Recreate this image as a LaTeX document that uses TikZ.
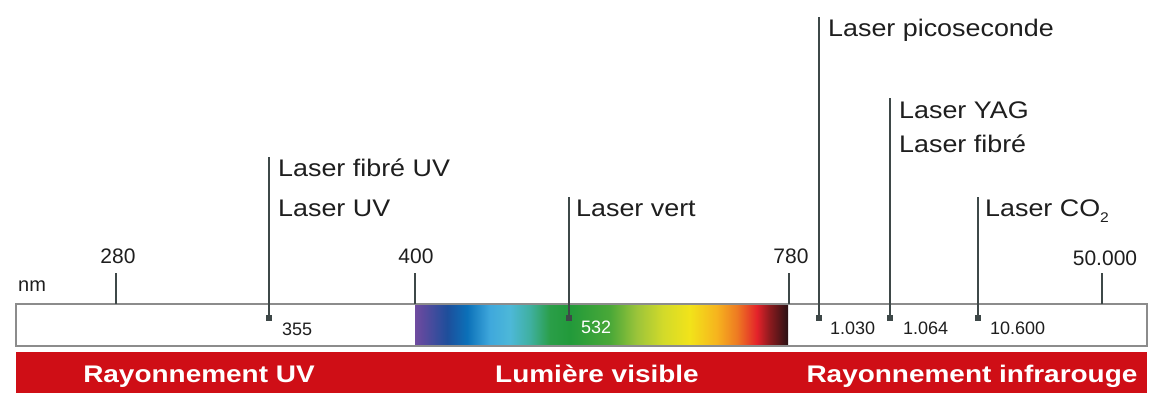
\documentclass[tikz,border=0pt]{standalone}
\usepackage{fontspec}
\setmainfont{Liberation Sans}
\newfontfamily\lblfont{Liberation Sans}[FakeStretch=1.12]
\newfontfamily\bandfont{Liberation Sans}[FakeStretch=1.165]
\definecolor{linecol}{RGB}{62,72,72}
\definecolor{barborder}{RGB}{140,140,140}
\definecolor{bandred}{RGB}{207,14,22}
\definecolor{txtcol}{RGB}{30,30,30}
\definecolor{s01}{RGB}{112,76,160}
\definecolor{s02}{RGB}{92,74,158}
\definecolor{s03}{RGB}{30,78,155}
\definecolor{s04}{RGB}{11,112,184}
\definecolor{s05}{RGB}{63,168,220}
\definecolor{s06}{RGB}{77,184,216}
\definecolor{s07}{RGB}{63,176,160}
\definecolor{s08}{RGB}{42,158,72}
\definecolor{s09}{RGB}{34,154,58}
\definecolor{s10}{RGB}{74,168,56}
\definecolor{s11}{RGB}{156,196,58}
\definecolor{s12}{RGB}{210,218,42}
\definecolor{s13}{RGB}{242,227,26}
\definecolor{s14}{RGB}{246,179,30}
\definecolor{s15}{RGB}{238,122,34}
\definecolor{s16}{RGB}{227,34,42}
\definecolor{s17}{RGB}{138,26,30}
\definecolor{s18}{RGB}{42,18,20}
\pgfdeclarehorizontalshading{spectrum}{100bp}{%
color(0bp)=(s01); color(25bp)=(s01); color(26.07bp)=(s02); color(29.29bp)=(s03);
color(31.97bp)=(s04); color(35.05bp)=(s05); color(37.73bp)=(s06); color(40.42bp)=(s07);
color(43.10bp)=(s08); color(45.78bp)=(s09); color(51.14bp)=(s10); color(54.76bp)=(s11);
color(58.24bp)=(s12); color(61.86bp)=(s13); color(65.48bp)=(s14); color(68.16bp)=(s15);
color(70.84bp)=(s16); color(72.59bp)=(s17); color(75bp)=(s18); color(100bp)=(s18)}
\begin{document}
\begin{tikzpicture}[x=1pt,y=-1pt,
  lasline/.style={draw=linecol, line width=1.8pt},
  tickline/.style={draw=linecol, line width=1.8pt},
  lasdot/.style={rectangle, fill=linecol, minimum size=6pt, inner sep=0pt},
  lbl/.style={anchor=base west, inner sep=0pt, text=txtcol, font=\lblfont\fontsize{24}{28}\selectfont},
  topnum/.style={anchor=base, inner sep=0pt, text=txtcol, font=\fontsize{21}{24}\selectfont},
  innum/.style={anchor=base west, inner sep=0pt, text=txtcol, font=\fontsize{18}{21}\selectfont},
  bandlbl/.style={anchor=base, inner sep=0pt, text=white, font=\bandfont\bfseries\fontsize{24}{28}\selectfont}]
\useasboundingbox (0,0) rectangle (1160,407);
% spectrum bar
\fill[white] (16,304) rectangle (1147,346);
\shade[shading=spectrum] (415,304) rectangle (788,346);
\draw[barborder, line width=1.2pt] (16,304) rectangle (1147,346);
% red band
\fill[bandred] (16,352) rectangle (1147,393);
\node[bandlbl] (bUV) at (199,382) {Rayonnement UV};
\node[bandlbl] (bVis) at (597,382) {Lumière visible};
\node[bandlbl] (bIR) at (972,382) {Rayonnement infrarouge};
% scale ticks
\coordinate (t280a) at (116,273); \coordinate (t280b) at (116,304);
\coordinate (t400a) at (415,273); \coordinate (t400b) at (415,304);
\coordinate (t780a) at (789,273); \coordinate (t780b) at (789,304);
\coordinate (t50ka) at (1102,273); \coordinate (t50kb) at (1102,304);
\draw[tickline] (t280a) -- (t280b);
\draw[tickline] (t400a) -- (t400b);
\draw[tickline] (t780a) -- (t780b);
\draw[tickline] (t50ka) -- (t50kb);
\node[topnum] (n280) at (118,263) {280};
\node[topnum] (n400) at (416,263) {400};
\node[topnum] (n780) at (791,263) {780};
\node[topnum] (n50k) at (1105,265) {50.000};
\node[anchor=base west, inner sep=0pt, text=txtcol, font=\fontsize{20}{24}\selectfont] (nm) at (18,291) {nm};
% laser markers
\node[lasdot] (mUV) at (269,317.5) {};
\node[lasdot] (mVert) at (569,317.5) {};
\node[lasdot] (mPico) at (819,317.5) {};
\node[lasdot] (mYAG) at (890,317.5) {};
\node[lasdot] (mCO) at (978,317.5) {};
\coordinate (tUV) at (269,157);
\coordinate (tVert) at (569,197);
\coordinate (tPico) at (819,17);
\coordinate (tYAG) at (890,98);
\coordinate (tCO) at (978,197);
\draw[lasline] (tUV) -- (mUV.center);
\draw[lasline] (tVert) -- (mVert.center);
\draw[lasline] (tPico) -- (mPico.center);
\draw[lasline] (tYAG) -- (mYAG.center);
\draw[lasline] (tCO) -- (mCO.center);
% laser labels
\node[lbl] (lPico) at (828,36) {Laser picoseconde};
\node[lbl] (lYAG) at (899,118) {Laser YAG};
\node[lbl] (lFib) at (899,152) {Laser fibré};
\node[lbl] (lCO) at (985,216) {Laser CO\raisebox{-0.28em}{\fontsize{14}{14}\selectfont 2}};
\node[lbl] (lFibUV) at (278,176) {Laser fibré UV};
\node[lbl] (lUV) at (278,216) {Laser UV};
\node[lbl] (lVert) at (576,216) {Laser vert};
% wavelength values
\node[innum] (v355) at (282,335) {355};
\node[innum, text=white] (v532) at (581,333) {532};
\node[innum] (v1030) at (830,334) {1.030};
\node[innum] (v1064) at (903,334) {1.064};
\node[innum] (v10600) at (990,334) {10.600};
\end{tikzpicture}
\end{document}
